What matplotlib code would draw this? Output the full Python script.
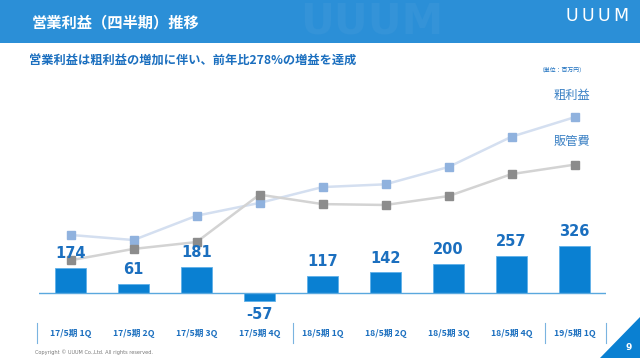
#!/usr/bin/env python3
"""UUUM quarterly operating profit chart"""
import matplotlib
matplotlib.use('Agg')
import matplotlib.pyplot as plt
from matplotlib.patches import Rectangle, Polygon

plt.rcParams['font.family'] = ['Noto Sans CJK JP', 'DejaVu Sans']

# data (百万円)
quarters = ['17/5期 1Q', '17/5期 2Q', '17/5期 3Q', '17/5期 4Q', '18/5期 1Q',
            '18/5期 2Q', '18/5期 3Q', '18/5期 4Q', '19/5期 1Q']
op_profit = [174, 61, 181, -57, 117, 142, 200, 257, 326]
gross_profit = [399, 364, 531, 619, 728, 747, 866, 1074, 1208]
sga = [225, 303, 350, 676, 611, 605, 666, 817, 882]

W, H = 640, 358
BLUE = '#0a80d2'
TXT = '#1b6fbf'


def fx(px):
    return px / W


def fy(py):
    return 1 - py / H


fig = plt.figure(figsize=(6.4, 3.58), dpi=100)
fig.patch.set_facecolor('white')

# header band
fig.patches.append(Rectangle((0, fy(42.5)), 1, 42.5 / H, transform=fig.transFigure,
                             facecolor='#2b8fd7', edgecolor='none', zorder=0))
fig.text(fx(300), fy(22), 'UUUM', color='#3493d8', fontsize=30, fontweight='bold',
         ha='left', va='center', family='DejaVu Sans', zorder=0.5)
fig.text(fx(32), fy(22), '営業利益（四半期）推移', color='white', fontsize=11,
         fontweight='bold', va='center')
for lx, ch in zip([572, 588, 604, 621], 'UUUM'):
    fig.text(fx(lx), fy(16), ch, color='white', fontsize=12.5, ha='center',
             va='center', family='DejaVu Sans')

fig.text(fx(29), fy(61), '営業利益は粗利益の増加に伴い、前年比278%の増益を達成',
         color=TXT, fontsize=8.8, fontweight='bold', va='center')
fig.text(fx(562), fy(70), '（単位：百万円）', color=TXT, fontsize=4.2,
         ha='center', va='center')

# chart area: baseline at y=293px, 0.1455 px per unit
top_px, bot_px, base_px, scale = 80, 310, 293, 0.1455
ax = fig.add_axes([fx(39), fy(bot_px), 567 / W, (bot_px - top_px) / H])
ax.set_xlim(-0.5, len(quarters) - 0.5)
ax.set_ylim(-(bot_px - base_px) / scale, (base_px - top_px) / scale)
ax.axis('off')

x = list(range(len(quarters)))
ax.bar(x, op_profit, width=0.49, color=BLUE, edgecolor='#5fb0e8', linewidth=0.6, zorder=2)
ax.axhline(0, color='#5aa8de', linewidth=1.0, zorder=3)

ax.plot(x, gross_profit, color='#d4dff0', linewidth=1.8, zorder=4,
        marker='s', markersize=5.5, markerfacecolor='#90b2de', markeredgecolor='#90b2de')
ax.plot(x, sga, color='#d3d3d3', linewidth=1.8, zorder=4,
        marker='s', markersize=5.5, markerfacecolor='#8c8c8c', markeredgecolor='#8c8c8c')

for xi, v in zip(x, op_profit):
    if v >= 0:
        ax.annotate(f'{v}', (xi, v), xytext=(0, 7), textcoords='offset points',
                    ha='center', va='baseline', color=TXT, fontsize=10.5,
                    fontweight='bold', family='DejaVu Sans', zorder=5)
    else:
        ax.annotate(f'{v}', (xi, v), xytext=(0, -4), textcoords='offset points',
                    ha='center', va='top', color=TXT, fontsize=10.5,
                    fontweight='bold', family='DejaVu Sans', zorder=5)

fig.text(fx(572), fy(96), '粗利益', color='#3a80c4', fontsize=8.8, ha='center', va='center')
fig.text(fx(572), fy(141), '販管費', color='#3a80c4', fontsize=8.8, ha='center', va='center')

# category labels under chart
for xi, q in zip(x, quarters):
    fig.text(fx(70.5 + 63 * xi), fy(333), q, color=TXT, fontsize=6.3,
             fontweight='bold', ha='center', va='center')
for sx in [37, 293, 545, 606]:
    fig.add_artist(plt.Line2D([fx(sx), fx(sx)], [fy(323), fy(343)],
                              color='#7ab4e0', linewidth=0.8))

fig.text(fx(35), fy(352), 'Copyright © UUUM Co.,Ltd. All rights reserved.',
         color='#777777', fontsize=3.6, va='center', family='DejaVu Sans')

# page corner
fig.patches.append(Polygon([(fx(600), 0), (1, 0), (1, fy(317))], closed=True,
                           transform=fig.transFigure, facecolor='#0a80d2',
                           edgecolor='none'))
fig.text(fx(629), fy(348), '9', color='white', fontsize=6.5, fontweight='bold',
         ha='center', va='center', family='DejaVu Sans')

fig.savefig('out.png', dpi=100)
